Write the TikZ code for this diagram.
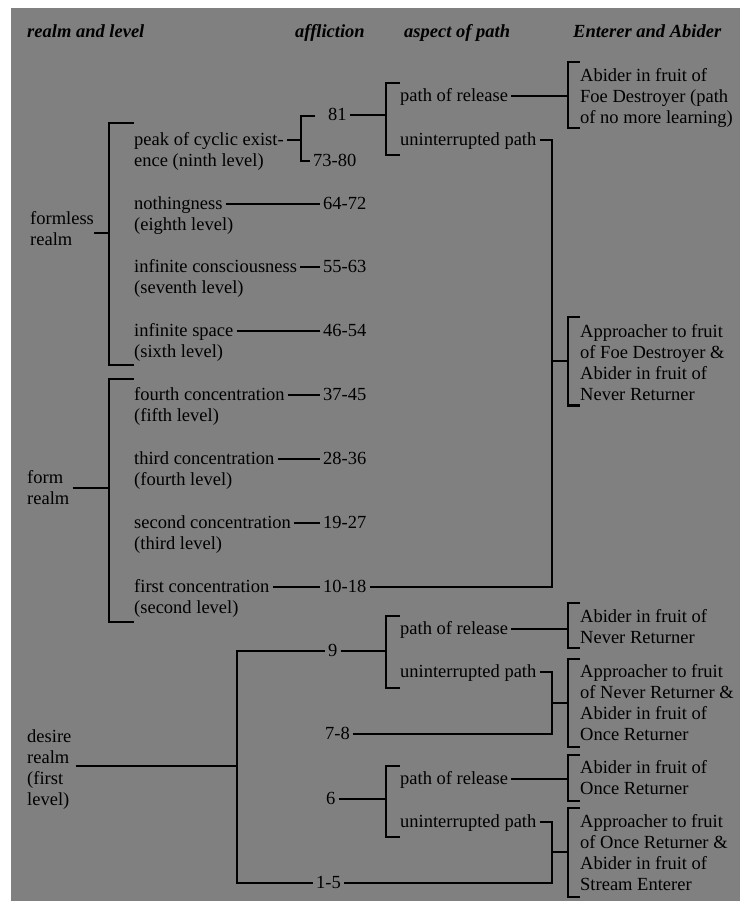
\documentclass[tikz,border=0pt]{standalone}
\usepackage{fontspec}
\setmainfont{Liberation Serif}
\usetikzlibrary{calc}

\newcommand{\fs}{\fontsize{18.5pt}{21pt}\selectfont}
\definecolor{bggray}{RGB}{128,128,128}

\tikzset{
  hdr/.style={font=\fs\bfseries\itshape,inner sep=0pt,anchor=base west},
  txt/.style={font=\fs,inner xsep=3pt,inner ysep=0pt,text height=10pt,text depth=0pt,anchor=base west},
  blk/.style={font=\fs,inner sep=0pt,align=left,anchor=base west},
  br/.style={line width=2.7pt,line join=miter}
}

\begin{document}
\begin{tikzpicture}[x=1pt,y=-1pt]
        \useasboundingbox (0,0) rectangle (740,903);
        \fill[bggray] (11,8) rectangle (740,901);

        \node (h1) at (27,37) [hdr] {realm and level};
        \node (h2) at (295,37) [hdr] {affliction};
        \node (h3) at (404,37) [hdr] {aspect of path};
        \node (h4) at (573,37) [hdr] {Enterer and Abider};

        % multi-line nodes sit on their last line
        \node (formless) at (30,245.5) [blk] {formless\\realm};
        \node (form) at (27,504) [blk] {form\\realm};
        \node (desire) at (27,805) [blk] {desire\\realm\\(first\\level)};

        \node (peak) at (131,145) [txt] {peak of cyclic exist-};
        \node (peakB) at (131,166) [txt] {ence (ninth level)};
        \node (nothing) at (131,209) [txt] {nothingness};
        \node (nothingB) at (131,230) [txt] {(eighth level)};
        \node (infcons) at (131,272) [txt] {infinite consciousness};
        \node (infconsB) at (131,293) [txt] {(seventh level)};
        \node (infspace) at (131,336) [txt] {infinite space};
        \node (infspaceB) at (131,357) [txt] {(sixth level)};
        \node (fourth) at (131,400) [txt] {fourth concentration};
        \node (fourthB) at (131,421) [txt] {(fifth level)};
        \node (third) at (131,464) [txt] {third concentration};
        \node (thirdB) at (131,485) [txt] {(fourth level)};
        \node (second) at (131,528) [txt] {second concentration};
        \node (secondB) at (131,549) [txt] {(third level)};
        \node (first) at (131,592) [txt] {first concentration};
        \node (firstB) at (131,613) [txt] {(second level)};

        \node (n81) at (325,120) [txt] {81};
        \node (n7380) at (310,166) [txt] {73-80};
        \node (n6472) at (320,209) [txt] {64-72};
        \node (n5563) at (320,272) [txt] {55-63};
        \node (n4654) at (320,336) [txt] {46-54};
        \node (n3745) at (320,400) [txt] {37-45};
        \node (n2836) at (320,464) [txt] {28-36};
        \node (n1927) at (320,528) [txt] {19-27};
        \node (n1018) at (320,592) [txt] {10-18};
        \node (n9) at (325,656) [txt] {9};
        \node (n78) at (322,739) [txt] {7-8};
        \node (n6) at (323,804) [txt] {6};
        \node (n15) at (313,888) [txt] {1-5};

        \node (rel1) at (397,101) [txt] {path of release};
        \node (un1) at (397,145) [txt] {uninterrupted path};
        \node (rel2) at (397,634) [txt] {path of release};
        \node (un2) at (397,677) [txt] {uninterrupted path};
        \node (rel3) at (397,784) [txt] {path of release};
        \node (un3) at (397,827) [txt] {uninterrupted path};

        \node (fd) at (580,123) [blk] {Abider in fruit of\\Foe Destroyer (path\\of no more learning)};
        \node (afd) at (580,400) [blk] {Approacher to fruit\\of Foe Destroyer \&\\Abider in fruit of\\Never Returner};
        \node (nr) at (580,643) [blk] {Abider in fruit of\\Never Returner};
        \node (anr) at (580,740.5) [blk] {Approacher to fruit\\of Never Returner \&\\Abider in fruit of\\Once Returner};
        \node (or) at (580,794.5) [blk] {Abider in fruit of\\Once Returner};
        \node (aor) at (580,890) [blk] {Approacher to fruit\\of Once Returner \&\\Abider in fruit of\\Stream Enterer};

        % bracket columns and ends
        \coordinate (colP) at (301,0);
        \coordinate (colA) at (386,0);
        \coordinate (colU) at (552,0);
        \coordinate (colR) at (568,0);
        \coordinate (fmlT) at (134,123);
        \coordinate (fmlB) at (134,365);
        \coordinate (fmlJ) at (109,233);
        \coordinate (frmT) at (134,379);
        \coordinate (frmB) at (134,622);
        \coordinate (frmJ) at (109,488);
        \coordinate (desJ) at (237,766);
        \coordinate (pkT) at (315,116);
        \coordinate (asp1T) at (400,83);
        \coordinate (asp1B) at (400,155);
        \coordinate (asp2T) at (400,616);
        \coordinate (asp2B) at (400,688);
        \coordinate (asp3T) at (400,766);
        \coordinate (asp3B) at (400,837);
        \coordinate (fdT) at (580,62);
        \coordinate (fdB) at (580,128);
        \coordinate (afdT) at (580,317);
        \coordinate (afdB) at (580,405.5);
        \coordinate (nrT) at (580,603);
        \coordinate (nrB) at (580,648);
        \coordinate (anrT) at (580,659);
        \coordinate (anrB) at (580,747);
        \coordinate (orT) at (580,755);
        \coordinate (orB) at (580,801);
        \coordinate (aorT) at (580,808);
        \coordinate (aorB) at (580,897);

        % realms
        \draw[br] (fmlT) -| (fmlJ |- fmlB) -- (fmlB);
        \draw[br] (formless.east |- fmlJ) -- (fmlJ);
        \draw[br] (frmT) -| (frmJ |- frmB) -- (frmB);
        \draw[br] ([xshift=3pt]form.east |- frmJ) -- (frmJ);
        \draw[br] (n9) -| (desJ |- n15) -- (n15);
        \draw[br] ([xshift=4pt]desire.east |- desJ) -- (desJ);

        % levels to afflictions
        \draw[br] (peak) -- (peak -| colP);
        \draw[br] (pkT) -| (colP |- n7380) -- (n7380);
        \draw[br] (nothing) -- (n6472);
        \draw[br] (infcons) -- (n5563);
        \draw[br] (infspace) -- (n4654);
        \draw[br] (fourth) -- (n3745);
        \draw[br] (third) -- (n2836);
        \draw[br] (second) -- (n1927);
        \draw[br] (first) -- (n1018);

        % afflictions to paths
        \draw[br] (n81) -- (n81 -| colA);
        \draw[br] (n9) -- (n9 -| colA);
        \draw[br] (n6) -- (n6 -| colA);
        \draw[br] (asp1T) -| (colA |- asp1B) -- (asp1B);
        \draw[br] (asp2T) -| (colA |- asp2B) -- (asp2B);
        \draw[br] (asp3T) -| (colA |- asp3B) -- (asp3B);
        \draw[br] (un1) -| (colU |- n1018) -- (n1018);
        \draw[br] (un2) -| (colU |- n78) -- (n78);
        \draw[br] (un3) -| (colU |- n15) -- (n15);

        % paths to enterers and abiders
        \draw[br] (fdT) -| (colR |- fdB) -- (fdB);
        \draw[br] (afdT) -| (colR |- afdB) -- (afdB);
        \draw[br] (nrT) -| (colR |- nrB) -- (nrB);
        \draw[br] (anrT) -| (colR |- anrB) -- (anrB);
        \draw[br] (orT) -| (colR |- orB) -- (orB);
        \draw[br] (aorT) -| (colR |- aorB) -- (aorB);
        \draw[br] (rel1) -- (rel1 -| colR);
        \draw[br] (rel2) -- (rel2 -| colR);
        \draw[br] (rel3) -- (rel3 -| colR);
        \draw[br] (colU |- 0,361) -- (colR |- 0,361);
        \draw[br] (colU |- 0,703) -- (colR |- 0,703);
        \draw[br] (colU |- 0,852) -- (colR |- 0,852);
    \end{tikzpicture}
\end{document}
